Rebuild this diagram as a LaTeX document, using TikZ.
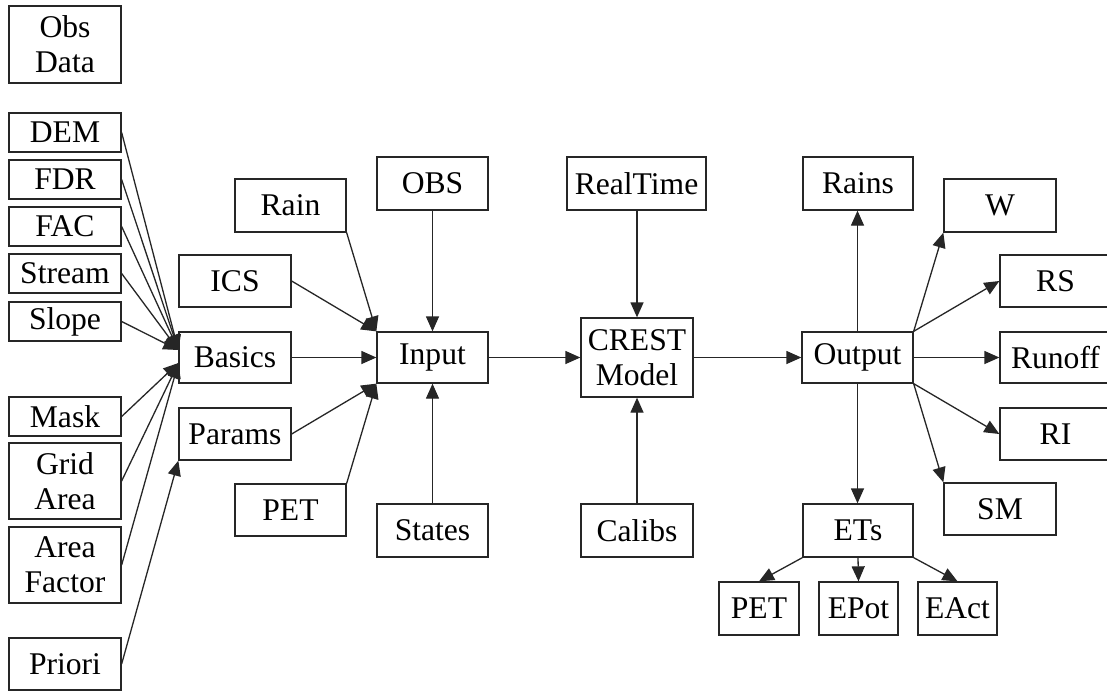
\documentclass[tikz,border=0pt]{standalone}
\usepackage{fontspec}
\setmainfont{Liberation Serif}
\usetikzlibrary{arrows.meta,calc}
\tikzset{
  box/.style={draw=black!85, line width=0.65pt, rectangle, inner sep=0pt, align=center,
    font=\fontsize{15.8}{17.5}\selectfont},
  conn/.style={draw=black!85, line width=0.65pt, -{Triangle[length=7.5pt,width=6.5pt]}},
}
\newcommand{\mybox}[6]{%
  \pgfmathsetmacro\bw{(#4-#2)*0.5}%
  \pgfmathsetmacro\bh{(#5-#3)*0.5}%
  \node[box, minimum width=\bw pt, minimum height=\bh pt] (#1) at ({(#2+#4)/2},{(#3+#5)/2}) {#6};%
}
\begin{document}
\begin{tikzpicture}[x=0.5pt,y=-0.5pt]
\fill[white] (0,0) rectangle (1107,692);
\useasboundingbox (0,0) rectangle (1107,692);
% left column
\mybox{obsdata}{9}{6}{121}{83}{Obs\\Data}
\mybox{dem}{9}{113}{121}{152}{DEM}
\mybox{fdr}{9}{160}{121}{199}{FDR}
\mybox{fac}{9}{207}{121}{246}{FAC}
\mybox{stream}{9}{254}{121}{293}{Stream}
\mybox{slope}{9}{302}{121}{341}{Slope}
\mybox{mask}{9}{397}{121}{436}{Mask}
\mybox{grid}{9}{443}{121}{519}{Grid\\Area}
\mybox{areaf}{9}{527}{121}{603}{Area\\Factor}
\mybox{priori}{9}{638}{121}{690}{Priori}
% second column
\mybox{rain}{235}{179}{346}{232}{Rain}
\mybox{ics}{179}{255}{291}{307}{ICS}
\mybox{basics}{179}{332}{291}{383}{Basics}
\mybox{params}{179}{408}{291}{460}{Params}
\mybox{petl}{235}{484}{346}{536}{PET}
% input column
\mybox{obs}{377}{157}{488}{210}{OBS}
\mybox{input}{377}{332}{488}{383}{Input}
\mybox{states}{377}{504}{488}{557}{States}
% model column
\mybox{realtime}{567}{157}{706}{210}{RealTime}
\mybox{crest}{581}{318}{693}{397}{CREST\\Model}
\mybox{calibs}{581}{504}{693}{557}{Calibs}
% output
\mybox{rains}{803}{157}{913}{210}{Rains}
\mybox{output}{802}{332}{913}{383}{Output}
\mybox{ets}{803}{504}{913}{557}{ETs}
\mybox{w}{944}{179}{1056}{232}{W}
\mybox{rs}{1000}{255}{1111}{307}{RS}
\mybox{runoff}{1000}{332}{1111}{383}{Runoff}
\mybox{ri}{1000}{408}{1111}{460}{RI}
\mybox{sm}{944}{483}{1056}{535}{SM}
\mybox{petb}{719}{582}{799}{635}{PET}
\mybox{epot}{819}{582}{898}{635}{EPot}
\mybox{eact}{918}{582}{997}{635}{EAct}
% coordinates on Basics left edge
\coordinate (bup) at ($(basics.west)+(0,-7.5)$);
\coordinate (blo) at ($(basics.west)+(0,5.5)$);
% connectors into Basics
\foreach \s in {dem,fdr,fac,stream,slope}
  \draw[conn] (\s.east) -- (bup);
\foreach \s in {mask,grid,areaf}
  \draw[conn] (\s.east) -- (blo);
\draw[conn] (priori.east) -- (params.south west);
% into Input
\draw[conn] (rain.south east) -- (input.north west);
\draw[conn] (ics.east) -- (input.north west);
\draw[conn] (basics.east) -- (input.west);
\draw[conn] (params.east) -- (input.south west);
\draw[conn] (petl.north east) -- (input.south west);
\draw[conn] (obs.south) -- (input.north);
\draw[conn] (states.north) -- (input.south);
% model
\draw[conn] (input.east) -- (crest.west);
\draw[conn] (realtime.south -| crest.north) -- (crest.north);
\draw[conn] (calibs.north) -- (crest.south);
\draw[conn] (crest.east) -- (output.west);
% outputs
\draw[conn] (output.north) -- (output.north |- rains.south);
\draw[conn] (output.north east) -- (w.south west);
\draw[conn] (output.north east) -- (rs.west);
\draw[conn] (output.east) -- (runoff.west);
\draw[conn] (output.south east) -- (ri.west);
\draw[conn] (output.south east) -- (sm.north west);
\draw[conn] (output.south) -- (output.south |- ets.north);
\draw[conn] (ets.south west) -- (petb.north);
\draw[conn] (ets.south) -- (epot.north);
\draw[conn] (ets.south east) -- (eact.north);
\end{tikzpicture}
\end{document}
